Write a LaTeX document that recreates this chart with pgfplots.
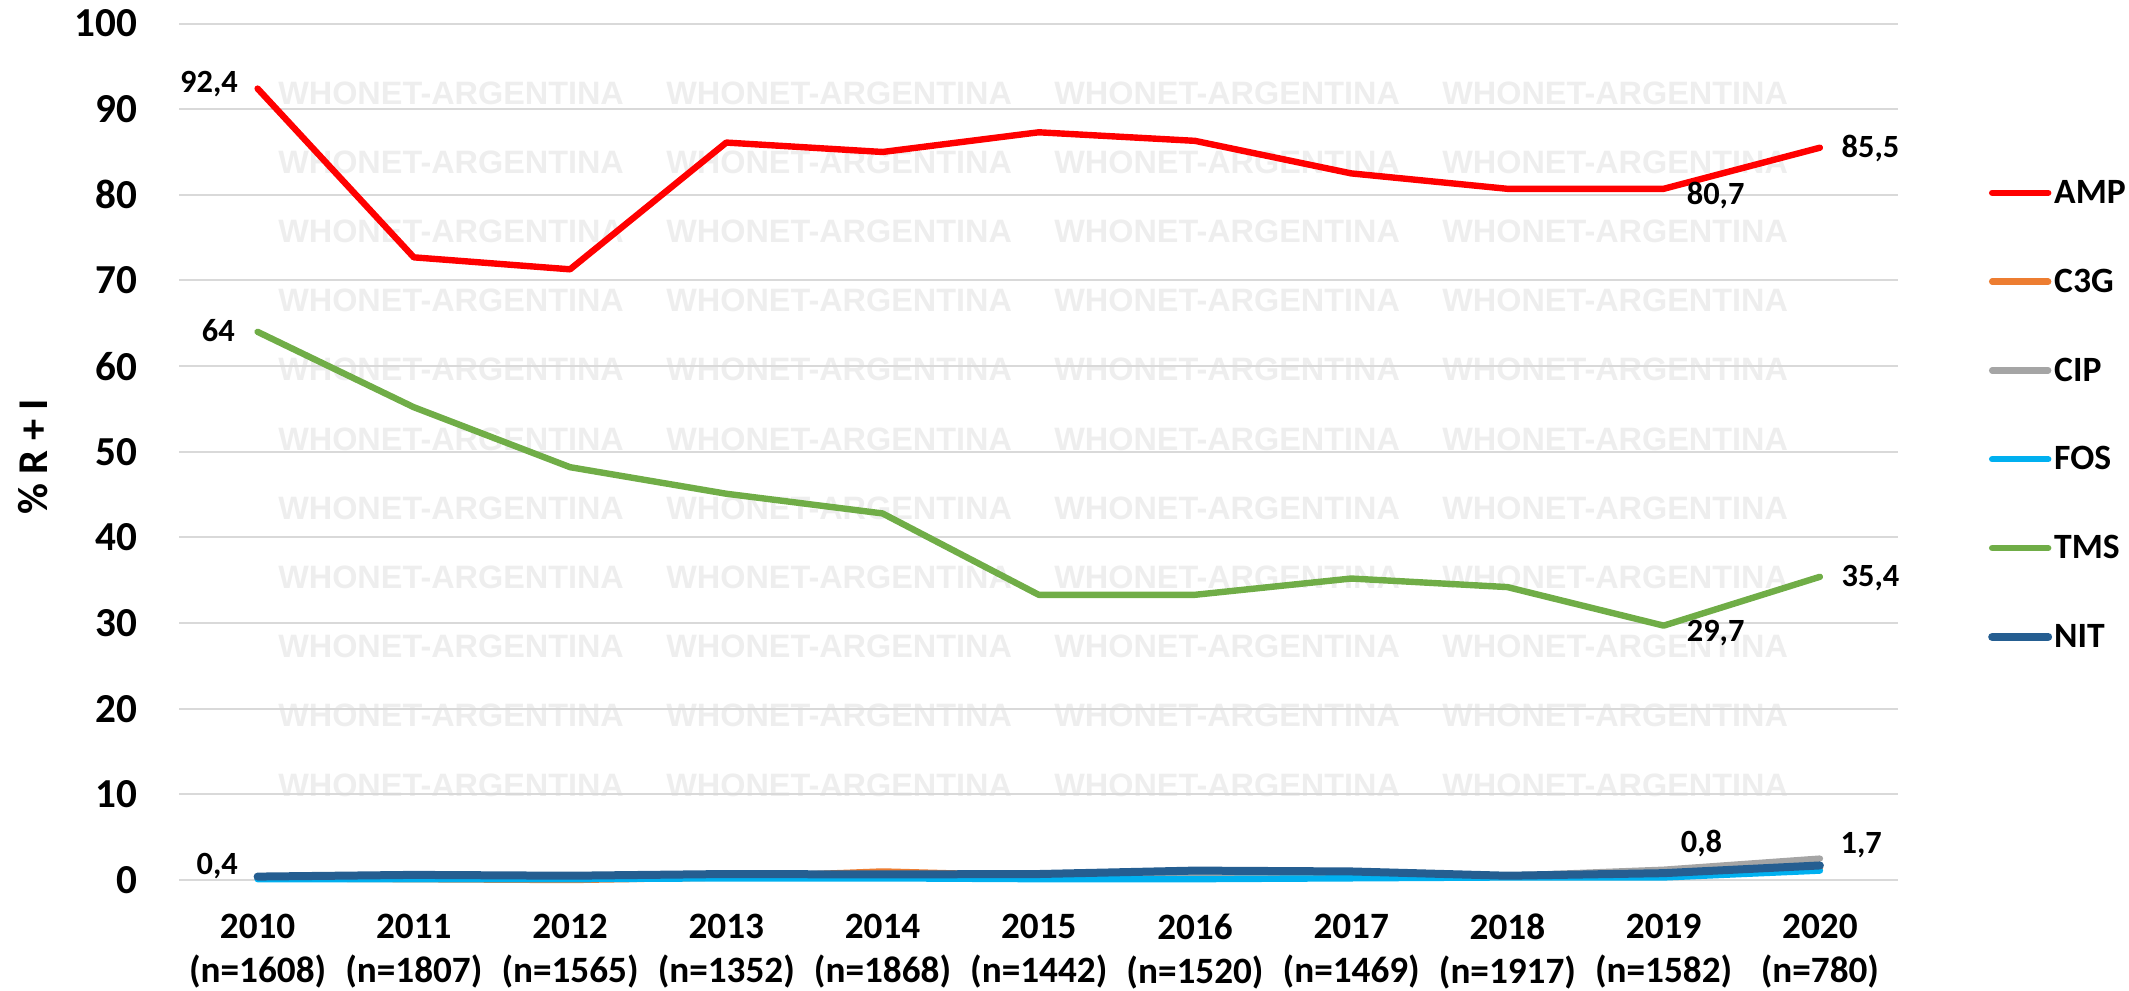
\documentclass[border=0pt]{standalone}
\usepackage{fontspec}
\setmainfont{Carlito}
\newfontfamily\wmfont{Liberation Sans}
\usepackage{pgfplots}
\pgfplotsset{compat=1.18}
\definecolor{cAMP}{HTML}{FF0000}
\definecolor{cC3G}{HTML}{ED7D31}
\definecolor{cCIP}{HTML}{A5A5A5}
\definecolor{cFOS}{HTML}{00B0F0}
\definecolor{cTMS}{HTML}{70AD47}
\definecolor{cNIT}{HTML}{255E91}
\definecolor{gridc}{HTML}{D9D9D9}
\definecolor{wmc}{HTML}{EEEEEE}
\tikzset{dl/.style={font=\bfseries\fontsize{8.1}{9}\selectfont, inner sep=0pt, text height=5pt, text depth=0pt}}
\begin{document}
\begin{tikzpicture}
% watermark
\foreach \cx in {67.9,164.9,261.9,358.9}{
  \foreach \k in {0,...,10}{
    \node[font=\wmfont\bfseries\fontsize{8.1}{9}\selectfont, text=wmc, inner sep=0pt] at (\cx pt,{196.75pt-17.3pt*\k}) {WHONET-ARGENTINA};
  }
}
\begin{axis}[
  scale only axis, width=429.625pt, height=214.125pt,
  clip=false,
  xmin=-0.5, xmax=10.5, ymin=0, ymax=100,
  ytick={0,10,...,100},
  xtick={0,...,10},
  xticklabels={{2010\\(n=1608)},{2011\\(n=1807)},{2012\\(n=1565)},{2013\\(n=1352)},{2014\\(n=1868)},{2015\\(n=1442)},{2016\\(n=1520)},{2017\\(n=1469)},{2018\\(n=1917)},{2019\\(n=1582)},{2020\\(n=780)}},
  ymajorgrids, grid style={color=gridc, line width=0.5pt},
  axis line style={draw=none},
  major tick length=0pt,
  /pgf/number format/assume math mode=true,
  yticklabel style={font=\bfseries\fontsize{10.3}{11}\selectfont, anchor=east, inner sep=0pt, xshift=-10.4pt},
  xticklabel style={font=\bfseries\fontsize{9.3}{11}\selectfont, align=center, anchor=north, inner sep=0pt, yshift=-8.25pt},
  ylabel={\% R + I},
  ylabel style={font=\bfseries\fontsize{10.6}{12}\selectfont, at={(axis description cs:-0.0852,0.494)}, anchor=center},
  legend style={at={(rel axis cs:1.052,0.818)}, anchor=north west, draw=none, fill=none,
    font=\bfseries\fontsize{8.9}{9}\selectfont, inner sep=0pt, row sep=15.9pt,
    nodes={inner sep=0.5pt, text height=5.3pt, text depth=0pt}},
  legend cell align=left,
  legend image code/.code={\draw[#1, line cap=round] (0pt,0pt) -- (14pt,0pt);},
  every axis plot/.append style={line join=round, line cap=round},
]
\addplot[cAMP, line width=1.6pt] coordinates {(0,92.4)(1,72.7)(2,71.3)(3,86.1)(4,85.0)(5,87.3)(6,86.3)(7,82.5)(8,80.7)(9,80.7)(10,85.5)};
\addlegendentry{AMP}
\addplot[cC3G, line width=1.6pt] coordinates {(0,0.2)(1,0.1)(2,0.0)(3,0.3)(4,1.0)(5,0.5)(6,0.4)(7,0.4)(8,0.4)(9,0.6)(10,1.4)};
\addlegendentry{C3G}
\addplot[cCIP, line width=1.6pt] coordinates {(0,0.3)(1,0.4)(2,0.5)(3,0.5)(4,0.5)(5,0.6)(6,0.7)(7,0.6)(8,0.5)(9,1.2)(10,2.5)};
\addlegendentry{CIP}
\addplot[cFOS, line width=1.6pt] coordinates {(0,0.1)(1,0.1)(2,0.1)(3,0.2)(4,0.2)(5,0.1)(6,0.1)(7,0.2)(8,0.3)(9,0.3)(10,1.1)};
\addlegendentry{FOS}
\addplot[cTMS, line width=1.6pt] coordinates {(0,64)(1,55.2)(2,48.2)(3,45.1)(4,42.8)(5,33.3)(6,33.3)(7,35.2)(8,34.2)(9,29.7)(10,35.4)};
\addlegendentry{TMS}
\addplot[cNIT, line width=2pt] coordinates {(0,0.4)(1,0.6)(2,0.5)(3,0.7)(4,0.65)(5,0.7)(6,1.1)(7,1.0)(8,0.5)(9,0.8)(10,1.7)};
\addlegendentry{NIT}
\node[dl, anchor=east, xshift=-4.75pt, yshift=1.6pt] at (axis cs:0,92.4) {92,4};
\node[dl, anchor=east, xshift=-5.5pt] at (axis cs:0,64) {64};
\node[dl, anchor=east, xshift=-4.75pt, yshift=2.9pt] at (axis cs:0,0.4) {0,4};
\node[dl, anchor=west, xshift=5.25pt] at (axis cs:10,85.5) {85,5};
\node[dl, anchor=west, xshift=5.25pt] at (axis cs:10,35.4) {35,4};
\node[dl, anchor=west, xshift=5.6pt, yshift=-1.5pt] at (axis cs:9,80.7) {80,7};
\node[dl, anchor=west, xshift=5.6pt, yshift=-1.4pt] at (axis cs:9,29.7) {29,7};
\node[dl, anchor=west, xshift=4.1pt, yshift=7.75pt] at (axis cs:9,0.8) {0,8};
\node[dl, anchor=west, xshift=5pt, yshift=5.5pt] at (axis cs:10,1.7) {1,7};
\end{axis}
\pgfresetboundingbox
\useasboundingbox (-44.875pt,-27.5pt) rectangle (487.375pt,220pt);
\end{tikzpicture}
\end{document}
